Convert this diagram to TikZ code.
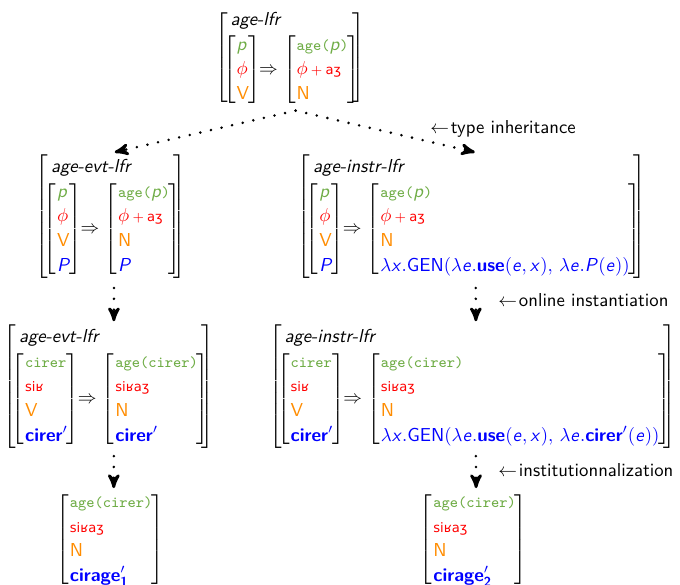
\documentclass[tikz,border=0pt]{standalone}
\usepackage{amsmath}
\usepackage{amssymb}
\usepackage{fontspec}
\renewcommand{\familydefault}{\sfdefault}
\newfontfamily\ipafont{DejaVu Sans}[Scale=0.7]
\usetikzlibrary{arrows,positioning}
\DeclareMathAlphabet{\mathsfit}{OT1}{cmss}{m}{sl}
\definecolor{avmgreen}{RGB}{112,173,71}
\definecolor{avmred}{RGB}{255,0,0}
\definecolor{avmorange}{RGB}{255,140,0}
\definecolor{avmblue}{RGB}{0,0,255}
\renewcommand{\arraystretch}{1.1}
% bracketed feature matrices
\newcommand{\avmat}[1]{\left[\kern0.6pt\begin{array}{@{}l@{}}#1\end{array}\kern-0.6pt\right]}
\newcommand{\avmtyped}[2]{\left[\kern1.5pt\begin{array}{@{}l@{}}\textit{#1}\\ \kern-4pt #2\end{array}\kern-4pt\right]}
\newcommand{\yields}{\mathrel{\kern-3.5pt\Rightarrow}}
% colours of the feature values
\newcommand{\gv}[1]{\textcolor{avmgreen}{#1}}
\newcommand{\rv}[1]{\textcolor{avmred}{#1}}
\newcommand{\ov}[1]{\textcolor{avmorange}{#1}}
\newcommand{\bv}[1]{\textcolor{avmblue}{#1}}
% sans variables, typewriter forms, phonology
\newcommand{\sv}[1]{\mathsfit{#1}}
\newcommand{\tts}[1]{\text{\fontsize{8.3pt}{10pt}\selectfont\ttfamily #1}}
\newcommand{\ipa}[1]{\text{\ipafont #1}}
\newcommand{\sfx}{\phi\mskip3mu{\scriptstyle+}\mskip3mu\ipa{aʒ}}
\tikzset{
    %Define standard arrow tip
    >=stealth',
    %Define style for feature structures
    avm/.style={
           inner sep=0pt,
           outer sep=0pt},
    %Define style for derivation arrows
    inherit/.style={
           ->,
           line width=1.5pt,
           dash pattern=on 0pt off 5.8pt,
           line cap=round},
    gloss/.style={
           anchor=west,
           inner sep=0pt}
}
\begin{document}
\begin{tikzpicture}[x=0.534pt,y=-0.534pt]
\clip (0,0) rectangle (680,584);
\node[avm, anchor=north](lfr) at (290,8){$\avmtyped{age-lfr}{
  \avmat{\gv{\sv{p}}\\ \rv{\phi}\\ \ov{\text{V}}}
  \yields
  \avmat{\gv{\tts{age(}\sv{p}\tts{)}}\\ \rv{\sfx}\\ \ov{\text{N}}}}$};
\node[avm, anchor=north](evt) at (111,155){$\avmtyped{age-evt-lfr}{
  \avmat{\gv{\sv{p}}\\ \rv{\phi}\\ \ov{\text{V}}\\ \bv{\sv{P}}}
  \yields
  \avmat{\gv{\tts{age(}\sv{p}\tts{)}}\\ \rv{\sfx}\\ \ov{\text{N}}\\ \bv{\sv{P}}}}$};
\node[avm, anchor=north](instr) at (472,155){$\avmtyped{age-instr-lfr}{
  \avmat{\gv{\sv{p}}\\ \rv{\phi}\\ \ov{\text{V}}\\ \bv{\sv{P}}}
  \yields
  \avmat{\gv{\tts{age(}\sv{p}\tts{)}}\\ \rv{\sfx}\\ \ov{\text{N}}\\
    \bv{\lambda\sv{x}.\mathsf{GEN}(\lambda\sv{e}.\textbf{use}(\sv{e},\sv{x}),\,\lambda\sv{e}.\sv{P}(\sv{e}))}}}$};
\node[avm, anchor=north](evtcirer) at (109,325){$\avmtyped{age-evt-lfr}{
  \avmat{\gv{\tts{cirer}}\\ \rv{\ipa{siʁ}}\\ \ov{\text{V}}\\ \bv{\textbf{cirer}'}}
  \yields
  \avmat{\gv{\tts{age(cirer)}}\\ \rv{\ipa{siʁaʒ}}\\ \ov{\text{N}}\\ \bv{\textbf{cirer}'}}}$};
\node[avm, anchor=north](instrcirer) at (472.5,325){$\avmtyped{age-instr-lfr}{
  \avmat{\gv{\tts{cirer}}\\ \rv{\ipa{siʁ}}\\ \ov{\text{V}}\\ \bv{\textbf{cirer}'}}
  \yields
  \avmat{\gv{\tts{age(cirer)}}\\ \rv{\ipa{siʁaʒ}}\\ \ov{\text{N}}\\
    \bv{\lambda\sv{x}.\mathsf{GEN}(\lambda\sv{e}.\textbf{use}(\sv{e},\sv{x}),\,\lambda\sv{e}.\textbf{cirer}'(\sv{e}))}}}$};
\node[avm, anchor=north](cirageone) at (110,490){$\avmat{
  \gv{\tts{age(cirer)}}\\ \rv{\ipa{siʁaʒ}}\\ \ov{\text{N}}\\ \bv{\textbf{cirage}'_{\textbf{1}}}}$};
\node[avm, anchor=north](ciragetwo) at (473.5,490){$\avmat{
  \gv{\tts{age(cirer)}}\\ \rv{\ipa{siʁaʒ}}\\ \ov{\text{N}}\\ \bv{\textbf{cirage}'_{\textbf{2}}}}$};
% derivation steps
\draw[inherit] ([xshift=3pt,yshift=-2pt]lfr.south) -- ([xshift=2pt,yshift=1.5pt]evt.north);
\draw[inherit] ([xshift=3pt,yshift=-2pt]lfr.south) -- ([xshift=1.5pt,yshift=1.5pt]instr.north);
\draw[inherit] ([xshift=1.6pt,yshift=-5pt]evt.south) -- ([xshift=2.6pt,yshift=2pt]evtcirer.north);
\draw[inherit] ([xshift=2pt,yshift=-5pt]instr.south) -- ([xshift=1.8pt,yshift=2pt]instrcirer.north);
\draw[inherit] ([xshift=2.6pt,yshift=-4pt]evtcirer.south) -- ([xshift=2pt,yshift=1pt]cirageone.north);
\draw[inherit] ([xshift=1.8pt,yshift=-4pt]instrcirer.south) -- ([xshift=1.4pt,yshift=1pt]ciragetwo.north);
\node[gloss](typeinh) at (430,129){$\leftarrow$\kern1pt type inheritance};
\node[gloss](online) at (498,300){$\leftarrow$\kern1pt online instantiation};
\node[gloss](instit) at (498,470){$\leftarrow$\kern1pt institutionnalization};
\end{tikzpicture}
\end{document}
